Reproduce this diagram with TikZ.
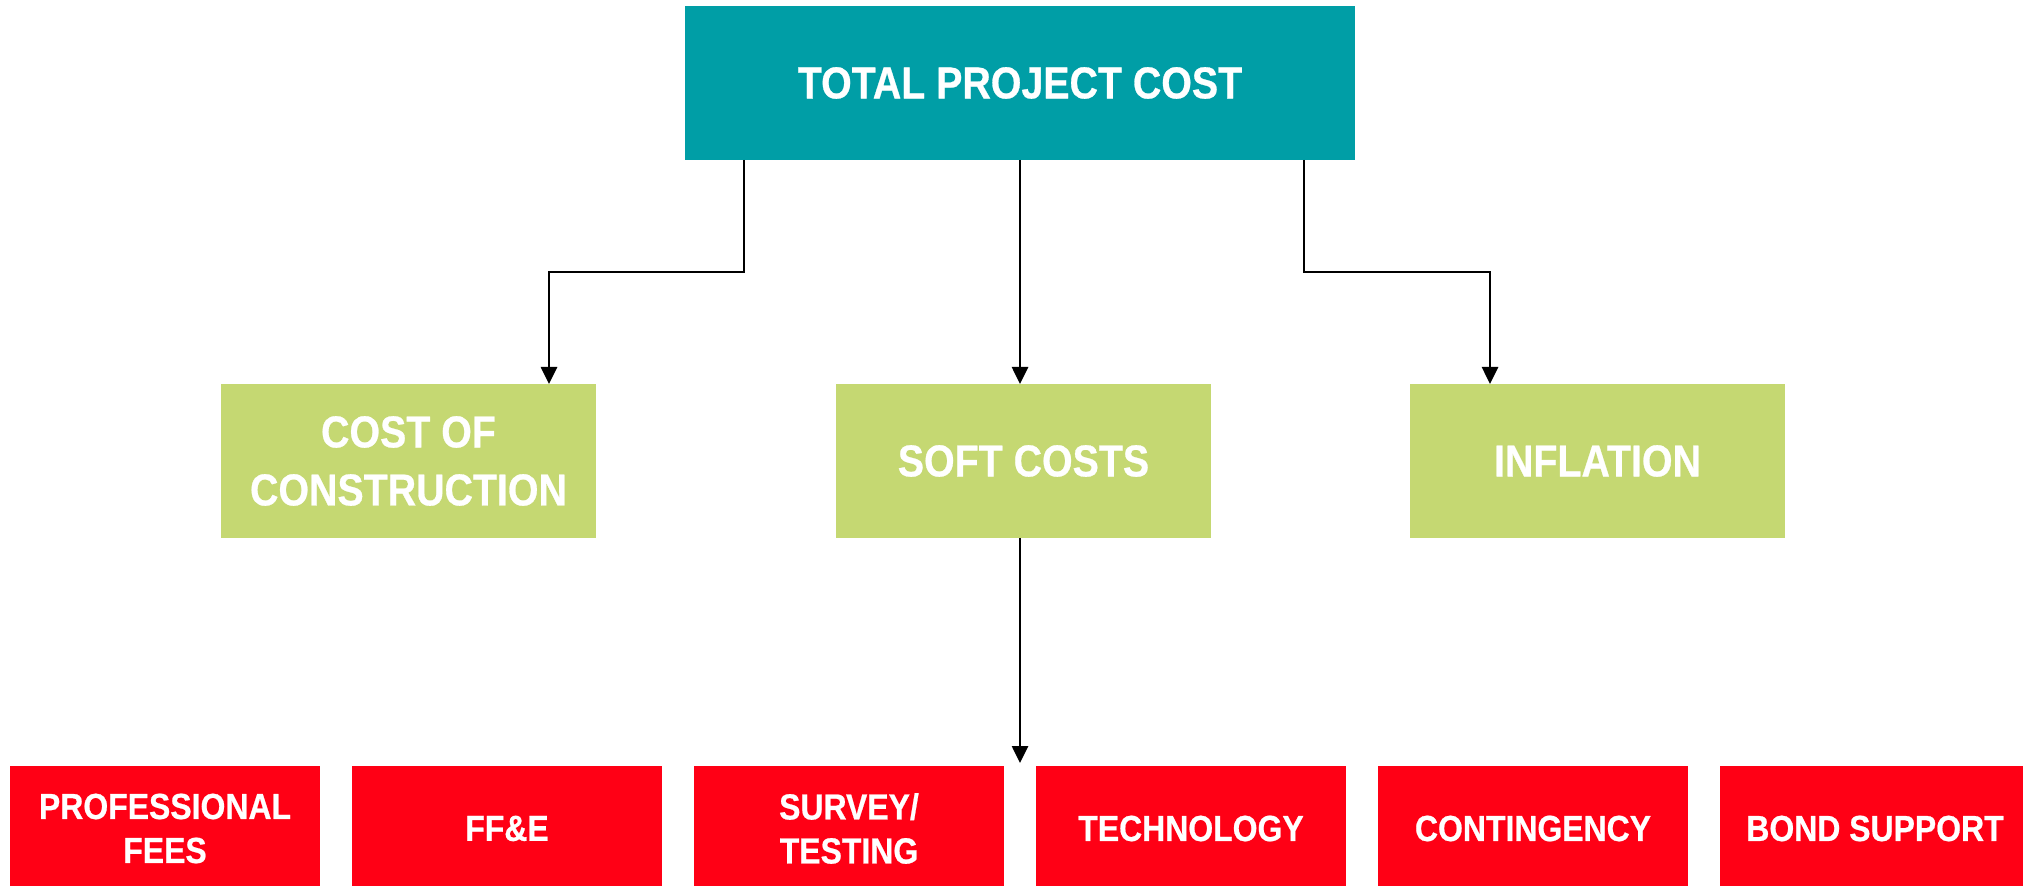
\documentclass[tikz,border=0pt]{standalone}
\usepackage{fontspec}
\newfontfamily\chartfont{Liberation Sans}[FakeStretch=0.88, BoldFeatures={FakeBold=0.6}]
\usepackage{tikz}
\usetikzlibrary{arrows.meta,calc,positioning}
\definecolor{topteal}{HTML}{009EA6}
\definecolor{midgreen}{HTML}{C5D872}
\definecolor{leafred}{HTML}{FF0015}
\tikzset{
	cost chart/.style={
		every node/.style={inner sep=0pt, outer sep=0pt, align=center, text=white},
		node distance=16pt and 16pt},
	topbox/.style={fill=topteal, minimum width=335pt, minimum height=77pt,
		font={\chartfont\bfseries\fontsize{22.35}{29}\selectfont}},
	midbox/.style={fill=midgreen, minimum width=187.5pt, minimum height=77pt,
		font={\chartfont\bfseries\fontsize{22.35}{29}\selectfont}},
	leafbox/.style={fill=leafred, minimum width=155pt, minimum height=62.5pt,
		font={\chartfont\bfseries\fontsize{18.15}{22}\selectfont}},
	conn/.style={line width=1.35pt, -{Triangle[length=8.5pt,width=8pt]}},
	bend/.store in=\bendlen,
	bend=56pt
}

\begin{document}
\begin{tikzpicture}[cost chart]
  \useasboundingbox (0,0) rectangle (1011.5pt,-443pt);
  % top level
  \node[topbox] (total) at (510pt,-41.5pt) {TOTAL PROJECT COST};
  % middle row
  \node[midbox, below=112pt of total, xshift=1.75pt] (soft) {SOFT COSTS};
  \node[midbox, left=120pt of soft] (construction) {COST OF\\CONSTRUCTION};
  \node[midbox, right=99.5pt of soft] (inflation) {INFLATION};
  % soft cost items
  \node[leafbox, anchor=north west] (fees) at (5pt,-383pt) {PROFESSIONAL\\FEES};
  \node[leafbox, right=of fees] (ffe) {FF\&E};
  \node[leafbox, right=of ffe] (survey) {SURVEY/\\TESTING};
  \node[leafbox, right=of survey] (tech) {TECHNOLOGY};
  \node[leafbox, right=of tech] (contingency) {CONTINGENCY};
  \node[leafbox, right=of contingency] (bond) {BOND SUPPORT};
  \coordinate (gap) at ($(survey.north east)!.5!(tech.north west)+(0,1.5pt)$);
  % connectors
  \draw[conn] ([xshift=29.5pt]total.south west) -- ++(0,-\bendlen) -| ([xshift=70.25pt]construction.north);
  \draw[conn] (total.south) -- (total.south |- soft.north);
  \draw[conn] ([xshift=-25.5pt]total.south east) -- ++(0,-\bendlen) -| ([xshift=-53.75pt]inflation.north);
  \draw[conn] (gap |- soft.south) -- (gap);
\end{tikzpicture}
\end{document}
